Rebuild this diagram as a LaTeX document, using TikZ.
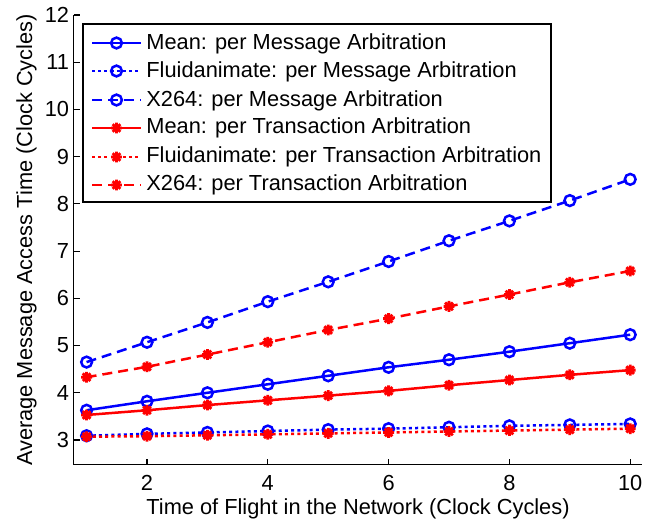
\documentclass[tikz,border=0pt]{standalone}
\usepackage{fontspec}
\setmainfont{Liberation Sans}
\usetikzlibrary{plotmarks}

% MATLAB-style eight-armed asterisk marker
\pgfdeclareplotmark{mstar}{%
  \pgfpathmoveto{\pgfqpoint{-\pgfplotmarksize}{0pt}}%
  \pgfpathlineto{\pgfqpoint{\pgfplotmarksize}{0pt}}%
  \pgfpathmoveto{\pgfqpoint{0pt}{-\pgfplotmarksize}}%
  \pgfpathlineto{\pgfqpoint{0pt}{\pgfplotmarksize}}%
  \pgfpathmoveto{\pgfqpoint{-.707\pgfplotmarksize}{-.707\pgfplotmarksize}}%
  \pgfpathlineto{\pgfqpoint{.707\pgfplotmarksize}{.707\pgfplotmarksize}}%
  \pgfpathmoveto{\pgfqpoint{-.707\pgfplotmarksize}{.707\pgfplotmarksize}}%
  \pgfpathlineto{\pgfqpoint{.707\pgfplotmarksize}{-.707\pgfplotmarksize}}%
  \pgfusepathqstroke}

\tikzset{
  lbl/.style={font=\fontsize{10.9}{13}\selectfont, inner sep=0pt, text=black},
  axisline/.style={line width=0.55pt, black},
  ser/.style={line width=1.25pt, mark options={solid}},
  msg/.style={ser, blue, mark=o, mark size=2.7pt},
  trn/.style={ser, red, mark=mstar, mark size=2.7pt, mark options={solid, line width=1.4pt}},
  meanln/.style={},
  fluidln/.style={dash pattern=on 1.5pt off 1.6pt},
  xln/.style={dash pattern=on 5pt off 3pt},
}

\begin{document}
\begin{tikzpicture}[x=0.5pt, y=0.5pt]
\useasboundingbox (0,0) rectangle (666,521);
\fill[white] (0,0) rectangle (666,521);

% data coordinates: x in cycles, y in cycles
\begin{scope}[shift={(26.2,-60.66)}, x=30.2pt, y=23.61pt]
  % series
  \draw[msg, meanln] plot coordinates {(1,3.63) (2,3.82) (3,4.00) (4,4.18) (5,4.36) (6,4.54) (7,4.70) (8,4.87) (9,5.05) (10,5.23)};
  \draw[msg, fluidln] plot coordinates {(1,3.09) (2,3.13) (3,3.16) (4,3.19) (5,3.22) (6,3.24) (7,3.27) (8,3.30) (9,3.32) (10,3.34)};
  \draw[msg, xln] plot coordinates {(1,4.65) (2,5.07) (3,5.49) (4,5.93) (5,6.35) (6,6.78) (7,7.22) (8,7.64) (9,8.07) (10,8.52)};
  \draw[trn, meanln] plot coordinates {(1,3.53) (2,3.63) (3,3.74) (4,3.84) (5,3.94) (6,4.04) (7,4.16) (8,4.27) (9,4.38) (10,4.48)};
  \draw[trn, fluidln] plot coordinates {(1,3.07) (2,3.08) (3,3.10) (4,3.12) (5,3.14) (6,3.16) (7,3.18) (8,3.20) (9,3.22) (10,3.24)};
  \draw[trn, xln] plot coordinates {(1,4.33) (2,4.55) (3,4.81) (4,5.07) (5,5.33) (6,5.57) (7,5.83) (8,6.08) (9,6.34) (10,6.58)};

  % axes
  \coordinate (ytop) at (0.79,12);
  \coordinate (orig) at (0.79,2.49);
  \coordinate (xend) at (10.19,2.49);
  \draw[axisline] (ytop) -- (orig) -- (xend);
  \foreach \v in {3,...,12} {
    \draw[axisline] (0.79,\v) -- ++(3pt,0);
    \node[lbl, anchor=east] (yl\v) at ([xshift=-2.2pt]0.79,\v) {\v};
  }
  \foreach \v in {2,4,6,8,10} {
    \draw[axisline] (\v,2.49) -- ++(0,2.5pt);
    \node[lbl, anchor=base] (xl\v) at (\v,1.941) {\v};
  }
\end{scope}

% axis titles
\node[lbl, anchor=base] (xtitle) at (358,6) {Time of Flight in the Network (Clock Cycles)};
\node[lbl, anchor=base, rotate=90] (ytitle) at (32,281) {Average Message Access Time (Clock Cycles)};

% legend
\draw[axisline, fill=white] (83,319) rectangle (551,497);

\draw[msg, meanln, mark=none] (92,478) -- (141,478);
\draw[msg] plot coordinates {(116.5,478)};
\node[lbl, anchor=base west] (leg1) at (146,472) {Mean: per Message Arbitration};

\draw[msg, fluidln, mark=none] (92,450) -- (141,450);
\draw[msg] plot coordinates {(116.5,450)};
\node[lbl, anchor=base west] (leg2) at (146,444) {Fluidanimate: per Message Arbitration};

\draw[msg, xln, mark=none] (92,421) -- (141,421);
\draw[msg] plot coordinates {(116.5,421)};
\node[lbl, anchor=base west] (leg3) at (146,415) {X264: per Message Arbitration};

\draw[trn, meanln, mark=none] (92,393) -- (141,393);
\draw[trn] plot coordinates {(116.5,393)};
\node[lbl, anchor=base west] (leg4) at (146,387) {Mean: per Transaction Arbitration};

\draw[trn, fluidln, mark=none] (92,364) -- (141,364);
\draw[trn] plot coordinates {(116.5,364)};
\node[lbl, anchor=base west] (leg5) at (146,358) {Fluidanimate: per Transaction Arbitration};

\draw[trn, xln, mark=none] (92,336) -- (141,336);
\draw[trn] plot coordinates {(116.5,336)};
\node[lbl, anchor=base west] (leg6) at (146,330) {X264: per Transaction Arbitration};
\end{tikzpicture}
\end{document}
